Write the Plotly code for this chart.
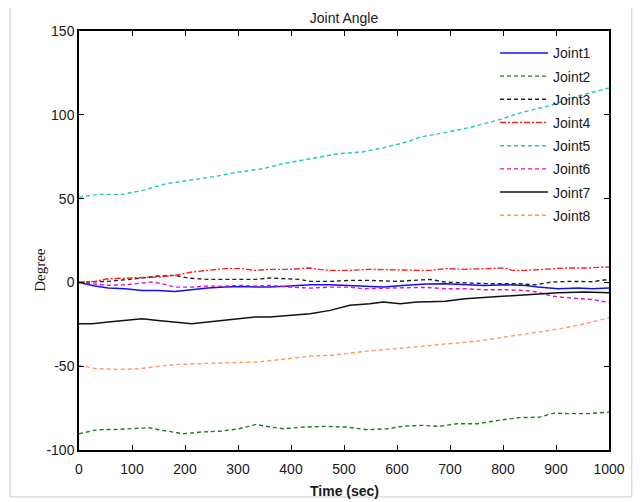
import plotly.graph_objects as go

# ---- data ----
names = ["Joint1", "Joint2", "Joint3", "Joint4", "Joint5", "Joint6", "Joint7", "Joint8"]

x1 = [0, 30, 55, 87, 119, 149, 181, 213, 243, 275, 308, 332, 360, 398, 436, 474, 511, 549, 574, 611, 655, 691, 728, 766, 804, 842, 866, 904, 942, 968, 1000]
y1 = [0, -2.2, -3.4, -3.8, -4.8, -4.8, -5.4, -4.2, -3.4, -2.8, -2.4, -2.8, -2.8, -2.2, -1.4, -1.4, -1.8, -2.2, -2.8, -1.8, -1.0, -0.8, -1.4, -1.8, -1.4, -1.8, -2.8, -3.8, -3.4, -3.8, -3.4]

x2 = [0, 34, 73, 99, 132, 158, 197, 230, 269, 302, 334, 360, 386, 426, 465, 504, 543, 582, 615, 648, 680, 713, 752, 791, 830, 869, 896, 922, 961, 1000]
y2 = [-90.3, -87.9, -87.7, -87.3, -86.7, -88.3, -90.3, -89.3, -88.7, -87.3, -84.7, -86.3, -87.3, -86.3, -85.9, -86.3, -87.9, -87.3, -85.7, -85.3, -85.9, -84.3, -84.3, -82.3, -80.7, -80.4, -78.0, -78.3, -78.3, -77.4]

x3 = [0, 55, 119, 149, 181, 206, 243, 275, 308, 332, 360, 398, 417, 436, 474, 511, 549, 600, 638, 662, 691, 728, 779, 828, 860, 892, 930, 968, 1000]
y3 = [0, 0.6, 2.6, 3.8, 4.2, 2.6, 1.8, 1.8, 1.8, 1.8, 2.6, 1.8, 1.8, 0.6, 0.6, 1.2, 1.2, 0.6, 1.2, 1.8, 0.2, -0.2, -0.8, -0.8, -1.4, 0.2, 0.6, 0.4, 1.8]

x4 = [0, 30, 55, 87, 119, 149, 181, 213, 243, 275, 308, 332, 360, 398, 436, 449, 474, 511, 549, 600, 638, 662, 691, 728, 779, 804, 817, 842, 879, 917, 955, 1000]
y4 = [0, 0.6, 2.2, 2.6, 2.6, 3.2, 4.2, 6.2, 7.2, 8.2, 8.2, 7.2, 7.8, 7.8, 8.6, 7.8, 7.2, 7.2, 7.8, 7.2, 7.2, 7.2, 8.2, 7.8, 8.2, 8.6, 7.2, 7.2, 7.8, 8.6, 8.6, 9.2]

x5 = [0, 36, 81, 120, 165, 210, 256, 301, 346, 385, 437, 489, 534, 579, 618, 644, 696, 741, 793, 838, 890, 935, 1000]
y5 = [50.9, 52.5, 52.5, 54.9, 58.9, 60.9, 63.2, 65.8, 67.8, 70.8, 73.8, 76.8, 77.8, 80.7, 83.7, 86.7, 89.7, 92.7, 97.1, 101.6, 105.6, 110.6, 116.0]

x6 = [0, 30, 55, 87, 119, 138, 157, 181, 213, 243, 275, 308, 332, 360, 398, 436, 474, 511, 536, 574, 611, 655, 691, 728, 766, 804, 842, 866, 892, 930, 968, 1000]
y6 = [0, -0.8, -1.8, -1.4, -0.2, 0.2, -0.8, -2.8, -2.8, -2.2, -2.2, -1.8, -2.2, -1.8, -2.8, -3.4, -2.8, -2.8, -3.8, -3.4, -3.2, -3.0, -3.8, -3.8, -4.4, -4.4, -4.8, -5.8, -8.2, -9.4, -10.2, -12.0]

x7 = [0, 25, 55, 87, 119, 149, 181, 213, 243, 275, 308, 332, 360, 398, 436, 474, 511, 549, 574, 606, 638, 662, 691, 728, 779, 828, 860, 904, 955, 1000]
y7 = [-24.7, -24.7, -23.7, -22.7, -21.7, -22.7, -23.7, -24.7, -23.7, -22.7, -21.7, -20.7, -20.7, -19.7, -18.7, -16.7, -13.7, -12.7, -11.7, -12.7, -11.7, -11.5, -11.3, -9.7, -8.7, -7.8, -6.8, -6.2, -5.8, -6.2]

x8 = [0, 33, 73, 115, 151, 190, 243, 285, 334, 379, 439, 474, 543, 595, 648, 700, 752, 804, 856, 909, 954, 1000]
y8 = [-49.5, -51.5, -51.9, -51.5, -50.0, -48.9, -48.3, -48.1, -47.5, -46.1, -43.9, -43.6, -41.0, -39.6, -38.2, -36.6, -35.0, -32.6, -30.2, -27.6, -24.7, -21.1]

x_ticks = [0, 100, 200, 300, 400, 500, 600, 700, 800, 900, 1000]
y_ticks = [-100, -50, 0, 50, 100, 150]
y_tick_labels = ["-100", "-50", "0", "50", "100", "150"]

# ---- styles ----
series = [
    (x1, y1, "#1010ff", "solid", 1.5),
    (x2, y2, "#1e7a1e", "4px,3px", 1.4),
    (x3, y3, "#222222", "4px,3px", 1.4),
    (x4, y4, "#ff2020", "6px,2px,2px,2px", 1.4),
    (x5, y5, "#1fc8c0", "4px,3px", 1.4),
    (x6, y6, "#e010c0", "4px,3px", 1.4),
    (x7, y7, "#111111", "solid", 1.5),
    (x8, y8, "#ff9a66", "4px,3px", 1.4),
]

fig = go.Figure()
for name, (xs, ys, col, dash, w) in zip(names, series):
    fig.add_trace(go.Scatter(x=xs, y=ys, mode="lines", name=name, legendgroup=name,
                             line=dict(color=col, dash=dash, width=w)))

axis_common = dict(showline=True, linecolor="black", linewidth=1.5, mirror="ticks",
                   ticks="inside", ticklen=5, tickcolor="black", tickwidth=1,
                   showgrid=False, zeroline=False, automargin=False,
                   tickfont=dict(family="Liberation Sans, Arial", size=14, color="#1a1a1a"))

# page body has an 8px margin, so the figure is sized/offset to keep the plot box in place
fig.update_layout(
    width=635, height=494,
    margin=dict(l=71, r=34, t=23, b=52),
    paper_bgcolor="white", plot_bgcolor="white",
    font=dict(family="Liberation Sans, Arial", size=14, color="#1a1a1a"),
    title=dict(text="Joint Angle", x=0.5, xref="paper", xanchor="center",
               yref="container", y=0.98, yanchor="middle",
               font=dict(size=14, color="#1a1a1a")),
    xaxis=dict(range=[0, 1000], tickvals=x_ticks, ticklabelstandoff=5, **axis_common),
    yaxis=dict(range=[-100, 150], tickvals=y_ticks, ticktext=y_tick_labels, **axis_common),
    legend=dict(x=0.785, y=0.985, xanchor="left", yanchor="top",
                bgcolor="rgba(255,255,255,0)", borderwidth=0,
                font=dict(size=14, color="#1a1a1a"), itemwidth=48,
                traceorder="grouped", tracegroupgap=2),
    showlegend=True,
)

fig.add_annotation(text="<b>Time (sec)</b>", xref="paper", yref="paper",
                   x=0.5, y=-0.098, xanchor="center", yanchor="middle", showarrow=False,
                   font=dict(size=14, color="#1a1a1a"))
fig.add_annotation(text="Degree", xref="paper", yref="paper", textangle=-90,
                   x=-0.0736, y=0.43, xanchor="center", yanchor="middle", showarrow=False,
                   font=dict(family="Liberation Serif, Times New Roman", size=15, color="#1a1a1a"))

fig.add_shape(type="rect", xref="paper", yref="paper",
              x0=-0.130, x1=1.043, y0=-0.112, y1=1.062,
              line=dict(color="#cccccc", width=1), fillcolor="rgba(0,0,0,0)", layer="below")

fig.write_html("out.html")
